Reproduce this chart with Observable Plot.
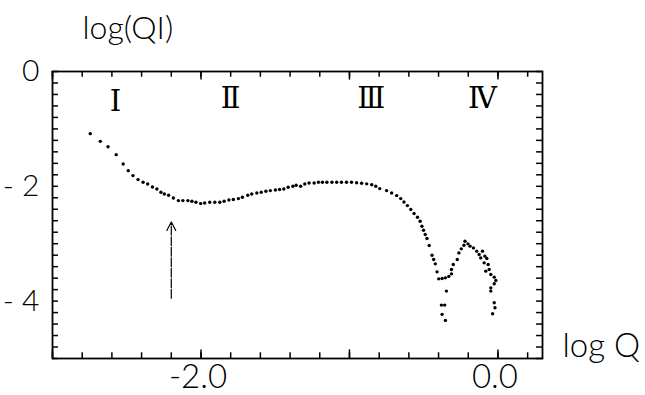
<!DOCTYPE html>
<html><head><meta charset="utf-8">
<script src="https://cdn.jsdelivr.net/npm/d3@7"></script>
<script src="https://cdn.jsdelivr.net/npm/@observablehq/plot@0.6"></script>
<style>
body{margin:0;background:#fff;}
#chart{width:645px;height:395px;}
#chart svg{overflow:visible;}
</style></head><body><div id="chart"></div>
<script>
// Measured points: log Q (x) and log(QI) (y)
const logQ = [
 -2.746,-2.678,-2.626,-2.571,-2.524,-2.490,-2.458,-2.424,-2.390,-2.359,
 -2.327,-2.297,-2.270,-2.247,-2.218,-2.186,-2.152,-2.122,-2.088,-2.061,
 -2.034,-2.002,-1.975,-1.941,-1.907,-1.873,-1.844,-1.812,-1.782,-1.748,
 -1.721,-1.685,-1.658,-1.624,-1.594,-1.563,-1.533,-1.499,-1.471,-1.442,
 -1.413,-1.381,-1.359,-1.329,-1.301,-1.272,-1.238,-1.209,-1.182,-1.152,
 -1.118,-1.086,-1.054,-1.020,-0.986,-0.952,-0.918,-0.884,-0.850,-0.823,
 -0.796,-0.750,-0.716,-0.682,-0.655,-0.633,-0.610,-0.587,-0.565,-0.542,
 -0.524,-0.512,-0.501,-0.490,-0.478,-0.463,-0.444,-0.433,-0.422,-0.410,
 -0.399,-0.376,-0.354,-0.331,-0.313,-0.313,-0.301,-0.274,-0.263,-0.247,
 -0.229,-0.222,-0.202,-0.188,-0.165,-0.143,-0.127,-0.116,-0.104,-0.088,
 -0.075,-0.093,-0.066,-0.059,-0.082,-0.048,-0.025,-0.014,-0.025,-0.048,
 -0.048,-0.347,-0.381,-0.359,-0.376,-0.354,-0.025,-0.020,-0.036
];
const logQI = [
 -1.083,-1.217,-1.310,-1.449,-1.612,-1.727,-1.814,-1.883,-1.930,-1.960,
 -2.012,-2.047,-2.104,-2.134,-2.157,-2.203,-2.249,-2.249,-2.249,-2.261,
 -2.278,-2.301,-2.290,-2.278,-2.278,-2.278,-2.261,-2.238,-2.231,-2.214,
 -2.191,-2.157,-2.134,-2.117,-2.104,-2.087,-2.075,-2.064,-2.057,-2.047,
 -2.017,-2.000,-1.983,-2.000,-1.960,-1.943,-1.943,-1.930,-1.930,-1.930,
 -1.930,-1.930,-1.930,-1.930,-1.930,-1.939,-1.948,-1.957,-1.974,-2.000,
 -2.040,-2.075,-2.117,-2.162,-2.214,-2.273,-2.336,-2.405,-2.475,-2.539,
 -2.609,-2.696,-2.765,-2.840,-2.910,-3.031,-3.200,-3.275,-3.351,-3.490,
 -3.612,-3.605,-3.595,-3.570,-3.525,-3.449,-3.362,-3.275,-3.160,-3.090,
 -3.026,-2.957,-3.003,-3.043,-3.073,-3.130,-3.188,-3.247,-3.130,-3.217,
 -3.257,-3.334,-3.362,-3.449,-3.478,-3.536,-3.583,-3.640,-3.699,-3.769,
 -3.826,-3.826,-4.070,-4.070,-4.231,-4.336,-4.030,-4.117,-4.221
];
const yTickValues = [0, -2, -4];
const yTickLabels = ["0", "- 2", "- 4"];
const xTickValues = [-2.0, 0.0];
const xTickLabels = ["-2.0", "0.0"];
const regionLabels = ["Ⅰ", "Ⅱ", "Ⅲ", "Ⅳ"];
const regionX = [-2.575, -1.80, -0.853, -0.105];
const regionY = [-0.52, -0.48, -0.48, -0.48];
const arrowX = [-2.2];
const arrowFrom = [-3.95];
const arrowTo = [-2.62];
const xMinorTicks = d3.range(-30, 4, 2).map(d => d / 10);
const xMajorTicks = [-3, -2, -1, 0];
const yMinorTicks = d3.range(-50, 1, 2).map(d => d / 10);

const xDomain = [-3.0, 0.3];
const yDomain = [-5, 0];
const font = "Lato, 'DejaVu Sans', sans-serif";

// inward tick lengths (in data units of the opposite axis)
const tx = 0.1, txMajor = 0.15, ty = 0.04;

const chart = Plot.plot({
  width: 645,
  height: 395,
  marginLeft: 52,
  marginRight: 103,
  marginTop: 71,
  marginBottom: 37,
  style: {fontFamily: font, background: "white", color: "black"},
  x: {domain: xDomain, axis: null},
  y: {domain: yDomain, axis: null},
  marks: [
    Plot.ruleX(xMinorTicks, {x: d => d, y1: yDomain[0], y2: yDomain[0] + tx, stroke: "black", strokeWidth: 1.5}),
    Plot.ruleX(xMinorTicks, {x: d => d, y1: yDomain[1], y2: yDomain[1] - tx, stroke: "black", strokeWidth: 1.5}),
    Plot.ruleX(xMajorTicks, {x: d => d, y1: yDomain[0], y2: yDomain[0] + txMajor, stroke: "black", strokeWidth: 1.5}),
    Plot.ruleX(xMajorTicks, {x: d => d, y1: yDomain[1], y2: yDomain[1] - txMajor, stroke: "black", strokeWidth: 1.5}),
    Plot.ruleY(yMinorTicks, {y: d => d, x1: xDomain[0], x2: xDomain[0] + ty, stroke: "black", strokeWidth: 1.5}),
    Plot.ruleY(yMinorTicks, {y: d => d, x1: xDomain[1], x2: xDomain[1] - ty, stroke: "black", strokeWidth: 1.5}),
    Plot.frame({stroke: "black", strokeWidth: 1.8}),
    Plot.text(yTickValues, {x: () => xDomain[0], y: d => d, text: (d, i) => yTickLabels[i], textAnchor: "end", dx: -13, fontSize: 30, fontWeight: 300, lineAnchor: "middle"}),
    Plot.text(xTickValues, {x: d => d, y: () => yDomain[0], text: (d, i) => xTickLabels[i], dy: 19, dx: -3, fontSize: 33, fontWeight: 300, lineAnchor: "middle"}),
    Plot.text(["log(QI)"], {frameAnchor: "top-left", text: d => d, textAnchor: "start", dx: 30, dy: -43, fontSize: 32, fontWeight: 300, lineAnchor: "middle"}),
    Plot.text(["log Q"], {frameAnchor: "bottom-right", text: d => d, textAnchor: "start", dx: 20, dy: -12, fontSize: 33, fontWeight: 300, lineAnchor: "middle"}),
    Plot.text(regionLabels, {x: (d, i) => regionX[i], y: (d, i) => regionY[i], text: d => d, fontFamily: "'DejaVu Serif', serif", fontSize: 29, lineAnchor: "middle"}),
    Plot.arrow(arrowX, {x1: d => d, x2: d => d, y1: (d, i) => arrowFrom[i], y2: (d, i) => arrowTo[i], stroke: "black", strokeWidth: 1.2, headLength: 12, headAngle: 55, strokeDasharray: "9,1.5"}),
    Plot.dot(logQ, {x: logQ, y: logQI, r: 1.7, fill: "black", stroke: null})
  ]
});
document.getElementById("chart").appendChild(chart);
</script>
</body></html>
